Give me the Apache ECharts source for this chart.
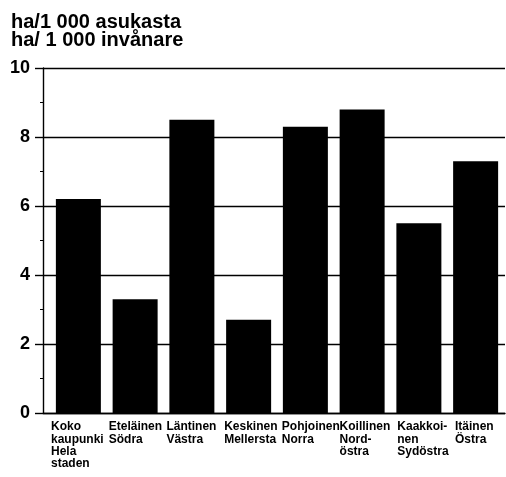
<!DOCTYPE html>
<html><head><meta charset="utf-8">
<script src="https://cdn.jsdelivr.net/npm/echarts@6/dist/echarts.min.js"></script>
<style>html,body{margin:0;padding:0;background:#fff}#c{width:506px;height:477px}</style>
</head><body><div id="c"></div>
<script>
const categories = ["Koko\nkaupunki\nHela\nstaden","Eteläinen\nSödra","Läntinen\nVästra","Keskinen\nMellersta","Pohjoinen\nNorra","Koillinen\nNord-\nöstra","Kaakkoi-\nnen\nSydöstra","Itäinen\nÖstra"];
const values = [6.2, 3.3, 8.5, 2.7, 8.3, 8.8, 5.5, 7.3];
const titleText = "ha/1 000 asukasta\nha/ 1 000 invånare";
const yMin = 0, yMax = 10, yStep = 2;

const FONT = "Liberation Sans";
const chart = echarts.init(document.getElementById('c'), null, {renderer:'canvas'});
chart.setOption({
  animation:false,
  backgroundColor:'#fff',
  title:{text:titleText,left:6,top:8,textStyle:{fontFamily:FONT,fontSize:20,fontWeight:'bold',color:'#000',lineHeight:18.5}},
  grid:[
    {left:43,right:1,top:68,bottom:64},
    {left:50,right:2,top:68,bottom:64},
    {left:51,right:51,top:68,bottom:64}
  ],
  xAxis:[
    {gridIndex:0,type:'category',data:categories.map(()=>''),
     axisLine:{show:true,lineStyle:{color:'#000',width:1.4}},axisTick:{show:false},axisLabel:{show:false},splitLine:{show:false}},
    {gridIndex:1,type:'category',data:categories,
     axisLine:{show:false},axisTick:{show:false},axisLabel:{show:false}},
    {gridIndex:2,type:'category',boundaryGap:false,data:categories,position:'bottom',
     axisLine:{show:false},axisTick:{show:false},
     axisLabel:{show:true,interval:0,align:'left',verticalAlign:'top',margin:8,fontFamily:FONT,fontSize:12,fontWeight:'bold',lineHeight:12.3,color:'#000'}}
  ],
  yAxis:[
    {gridIndex:0,type:'value',min:yMin,max:yMax,interval:yStep,
     axisLine:{show:true,lineStyle:{color:'#000',width:1.4}},
     axisTick:{show:true,length:8,lineStyle:{color:'#000',width:1.4}},
     minorTick:{show:true,splitNumber:2,length:3,lineStyle:{color:'#000',width:1}},
     axisLabel:{margin:13,fontFamily:FONT,fontSize:18,fontWeight:'bold',color:'#000'},
     splitLine:{show:true,lineStyle:{color:'#000',width:1.4}}},
    {gridIndex:1,type:'value',min:yMin,max:yMax,interval:yStep,show:false},
    {gridIndex:2,type:'value',min:yMin,max:yMax,interval:yStep,show:false}
  ],
  series:[{type:'bar',xAxisIndex:1,yAxisIndex:1,data:values,barWidth:45,itemStyle:{color:'#000'},z:3}]
});
</script></body></html>
